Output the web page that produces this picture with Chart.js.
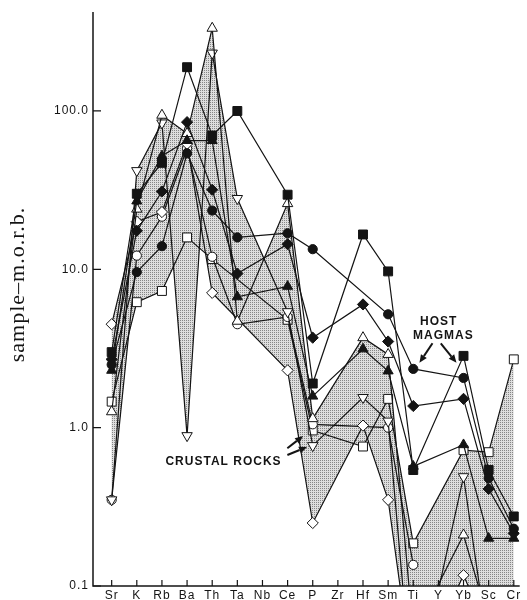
<!DOCTYPE html>
<html>
<head>
<meta charset="utf-8">
<script src="https://cdn.jsdelivr.net/npm/chart.js@4/dist/chart.umd.min.js"></script>
<style>
  html, body { margin: 0; padding: 0; background: #fff; }
  canvas { display: block; }
</style>
</head>
<body>
<canvas id="spider" width="527" height="600"></canvas>
<script>
// Elements along the x axis (normalised to m.o.r.b.)
const elements = ['Sr','K','Rb','Ba','Th','Ta','Nb','Ce','P','Zr','Hf','Sm','Ti','Y','Yb','Sc','Cr'];
const yTickValues = [0.1, 1, 10, 100];

// Host magmas (filled symbols)
const hostSquare   = [3.0, 30, 47, 189, 70, 100, null, 29.6, 1.9, null, 16.6, 9.7, 0.54, null, 2.84, 0.54, 0.275];
const hostCircle   = [2.5, 9.6, 14, 54, 23.5, 15.9, null, 16.9, 13.4, null, null, 5.2, 2.35, null, 2.06, 0.48, 0.23];
const hostDiamond  = [2.7, 17.5, 31, 85, 31.8, 9.4, null, 14.4, 3.7, null, 6.0, 3.5, 1.37, null, 1.52, 0.41, 0.215];
const hostTriangle = [2.3, 27, 52, 65, 65, 6.7, null, 7.8, 1.58, null, 3.14, 2.28, 0.57, null, 0.78, 0.2, 0.2];

// Crustal rocks (open symbols)
const crustTriangle = [1.26, 24, 94, 72, 333, 4.7, null, 26, 1.14, null, 3.7, 2.9, 0.05, null, 0.21, 0.06, null];
const crustInverted = [0.35, 42, 84, 0.89, 232, 28, null, 5.4, 0.77, null, 1.55, 1.1, 0.018, null, 0.49, 0.04, 0.04];
const crustDiamond  = [4.5, 20, 23, 62, 7.1, null, null, 2.3, 0.25, null, 1.03, 0.35, 0.025, null, 0.117, 0.05, null];
const crustCircle   = [0.35, 12.2, 21.5, 58, 12, 4.5, null, 5.0, 1.05, null, null, 1.0, 0.136, null, null, null, null];
const crustSquare   = [1.46, 6.2, 7.3, 15.9, 11.6, null, null, 4.8, 0.96, null, 0.76, 1.52, 0.186, null, 0.72, 0.70, 2.7];

const crustSeries = [crustTriangle, crustInverted, crustDiamond, crustCircle, crustSquare];

const toPoints = arr => arr.map((v, i) => (v == null ? null : { x: i, y: v })).filter(Boolean);

// stippled screen used for the crustal-rock field
const stipple = (() => {
  const tile = document.createElement('canvas');
  tile.width = 2; tile.height = 2;
  const t = tile.getContext('2d');
  t.fillStyle = '#dedede'; t.fillRect(0, 0, 2, 2);
  t.fillStyle = '#868686'; t.fillRect(0, 0, 1, 1);
  return t.createPattern(tile, 'repeat');
})();

const INK = '#141414';

function series(values, style, filled, radius, rotation) {
  return {
    data: toPoints(values),
    borderColor: INK,
    borderWidth: 1.2,
    pointStyle: style,
    pointRadius: radius,
    pointRotation: rotation || 0,
    pointBackgroundColor: filled ? INK : '#ffffff',
    pointBorderColor: INK,
    pointBorderWidth: 1,
    fill: false,
    tension: 0
  };
}

const hostSets = [
  series(hostSquare, 'rect', true, 6.3),
  series(hostCircle, 'circle', true, 4.6),
  series(hostDiamond, 'rectRot', true, 5.6),
  series(hostTriangle, 'triangle', true, 5.8)
];
const crustSets = [
  series(crustTriangle, 'triangle', false, 6),
  series(crustInverted, 'triangle', false, 6, 180),
  series(crustDiamond, 'rectRot', false, 5.6),
  series(crustCircle, 'circle', false, 4.6),
  series(crustSquare, 'rect', false, 6.3)
];

// The field of crustal rocks: the area between every pair of crustal profiles,
// filled by the library against the visible profile datasets.
const firstCrust = hostSets.length;
const fieldSets = [];
crustSeries.forEach((a, i) => {
  crustSeries.forEach((b, j) => {
    if (j <= i) return;
    fieldSets.push({
      data: toPoints(a),
      borderColor: 'rgba(0,0,0,0)',
      borderWidth: 0,
      pointRadius: 0,
      backgroundColor: stipple,
      fill: { target: firstCrust + j },
      tension: 0
    });
  });
});

function arrow(ctx, x0, y0, x1, y1) {
  const ang = Math.atan2(y1 - y0, x1 - x0);
  const len = 8, half = 3.5;
  const bx = x1 - len * Math.cos(ang), by = y1 - len * Math.sin(ang);
  ctx.lineWidth = 2;
  ctx.beginPath(); ctx.moveTo(x0, y0); ctx.lineTo(bx, by); ctx.stroke();
  ctx.beginPath();
  ctx.moveTo(x1, y1);
  ctx.lineTo(bx - half * Math.sin(ang), by + half * Math.cos(ang));
  ctx.lineTo(bx + half * Math.sin(ang), by - half * Math.cos(ang));
  ctx.closePath(); ctx.fill();
}

const spacing = {
  id: 'letterSpacing',
  beforeUpdate(chart) { chart.ctx.letterSpacing = '1px'; },
  beforeDraw(chart) { chart.ctx.letterSpacing = '1px'; }
};

const figureLabels = {
  id: 'figureLabels',
  afterDatasetsDraw(chart) {
    const { ctx, chartArea: a, scales: { x, y } } = chart;
    const px = v => x.getPixelForValue(v);
    const py = v => y.getPixelForValue(v);
    ctx.save();
    ctx.strokeStyle = INK; ctx.fillStyle = INK;

    // axes with inward tick marks
    ctx.lineWidth = 1.5;
    ctx.beginPath();
    ctx.moveTo(a.left, a.top); ctx.lineTo(a.left, a.bottom); ctx.lineTo(a.right, a.bottom);
    ctx.stroke();
    ctx.lineWidth = 1.2;
    ctx.beginPath();
    elements.forEach((_, i) => { ctx.moveTo(px(i), a.bottom); ctx.lineTo(px(i), a.bottom - 6); });
    yTickValues.forEach(v => { ctx.moveTo(a.left, py(v)); ctx.lineTo(a.left + 8, py(v)); });
    ctx.stroke();

    // group labels
    ctx.font = 'bold 12px "Liberation Sans", Arial, sans-serif';
    ctx.letterSpacing = '1px';
    ctx.textBaseline = 'alphabetic';
    ctx.textAlign = 'center';
    ctx.fillText('HOST', px(13.01), py(4.45));
    ctx.fillText('MAGMAS', px(13.2), py(3.61));
    arrow(ctx, px(12.765), py(3.41), px(12.245), py(2.57));
    arrow(ctx, px(13.094), py(3.41), px(13.72), py(2.57));

    ctx.textAlign = 'left';
    ctx.fillText('CRUSTAL ROCKS', px(2.14), py(0.581));
    arrow(ctx, px(6.99), py(0.741), px(7.617), py(0.886));
    arrow(ctx, px(6.99), py(0.672), px(7.773), py(0.755));

    // y axis title
    ctx.font = '22px "Liberation Serif", "Times New Roman", serif';
    ctx.letterSpacing = '1px';
    ctx.textAlign = 'center';
    ctx.translate(24, (py(10) + py(1)) / 2 - 64);
    ctx.rotate(-Math.PI / 2);
    ctx.fillText('sample\u2013m.o.r.b.', 0, 0);
    ctx.restore();
  }
};

new Chart(document.getElementById('spider'), {
  type: 'line',
  data: { datasets: [...hostSets, ...crustSets, ...fieldSets] },
  options: {
    responsive: false,
    animation: false,
    events: [],
    layout: { padding: { top: 12, right: 0, left: 0, bottom: 0 } },
    plugins: { legend: { display: false }, tooltip: { enabled: false } },
    scales: {
      x: {
        type: 'linear',
        min: -0.743,
        max: 16.235,
        grid: { display: false, drawTicks: false },
        border: { display: false },
        afterBuildTicks: s => { s.ticks = elements.map((_, i) => ({ value: i })); },
        afterFit: s => { s.height = 14; s.paddingLeft = 0; s.paddingRight = 0; },
        ticks: {
          autoSkip: false, maxRotation: 0, padding: 3.5,
          color: INK,
          font: { family: '"Liberation Sans", Arial, sans-serif', size: 12, lineHeight: 1 },
          callback: v => elements[v]
        }
      },
      y: {
        type: 'logarithmic',
        min: 0.1,
        max: 421.7,
        grid: { display: false, drawTicks: false },
        border: { display: false },
        afterBuildTicks: s => { s.ticks = yTickValues.map(v => ({ value: v })); },
        afterFit: s => { s.width = 93; s.paddingTop = 0; s.paddingBottom = 0; },
        ticks: {
          padding: 4,
          color: INK,
          font: { family: '"Liberation Sans", Arial, sans-serif', size: 12 },
          callback: v => Number(v).toFixed(1)
        }
      }
    }
  },
  plugins: [spacing, figureLabels]
});
</script>
</body>
</html>
